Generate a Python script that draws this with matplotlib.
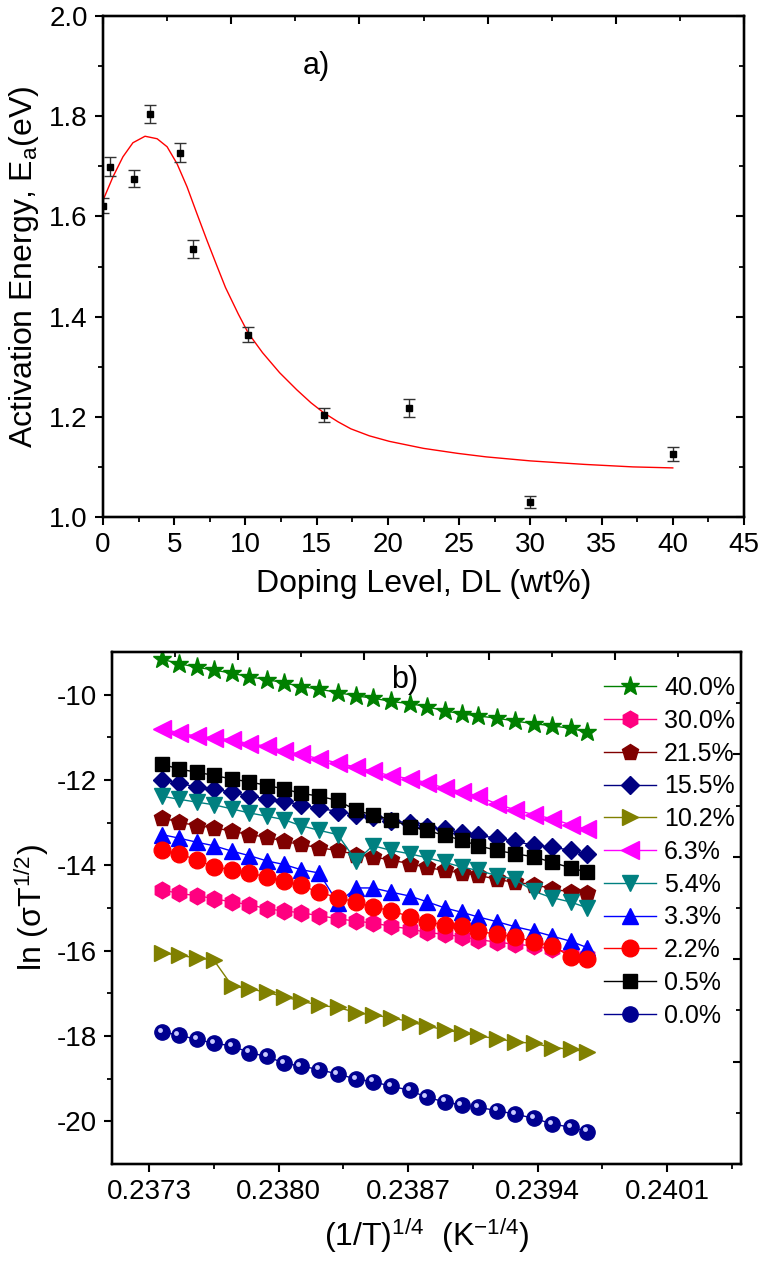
import matplotlib
matplotlib.use('Agg')
from matplotlib import pyplot as plt
from matplotlib.transforms import offset_copy


#panel a data: activation energy vs doping level

doping = [0.0, 0.5, 2.2, 3.3, 5.4, 6.3, 10.2, 15.5, 21.5, 30.0, 40.0]
ea = [1.621, 1.699, 1.675, 1.804, 1.727, 1.535, 1.364, 1.203, 1.217, 1.030, 1.126]
ea_err = [0.015, 0.019, 0.017, 0.018, 0.019, 0.018, 0.015, 0.014, 0.018, 0.012, 0.014]

fit_x = [0.0, 0.7, 1.4, 2.1, 2.95, 3.8, 4.5, 5.2, 5.9, 6.6, 7.3, 8.0, 8.6, 9.5, 10.2,
         11.2, 12.4, 13.6, 14.6, 15.5, 16.5, 17.4, 18.7, 20.1, 22.5, 24.9, 26.9, 30.0,
         33.8, 37.2, 40.0]
fit_y = [1.632, 1.679, 1.719, 1.747, 1.760, 1.755, 1.739, 1.705, 1.659, 1.605, 1.552,
         1.501, 1.458, 1.405, 1.367, 1.328, 1.288, 1.254, 1.228, 1.208, 1.190, 1.176,
         1.162, 1.151, 1.137, 1.127, 1.120, 1.112, 1.105, 1.100, 1.098]


#panel b data: ln(sigma T^1/2) vs (1/T)^1/4

inv_t = [0.23737, 0.23746, 0.23756, 0.23765, 0.23775, 0.23784, 0.23794, 0.23803,
         0.23812, 0.23822, 0.23832, 0.23842, 0.23851, 0.23861, 0.23871, 0.23880,
         0.23890, 0.23899, 0.23908, 0.23918, 0.23928, 0.23938, 0.23948, 0.23958, 0.23967]

s400 = [-9.17, -9.27, -9.36, -9.42, -9.50, -9.58, -9.65, -9.72, -9.81, -9.87, -9.95, -10.03,
        -10.08, -10.16, -10.21, -10.28, -10.38, -10.45, -10.50, -10.55, -10.62, -10.68,
        -10.73, -10.79, -10.88]
s300 = [-14.57, -14.66, -14.71, -14.78, -14.86, -14.92, -15.02, -15.07, -15.11, -15.18,
        -15.25, -15.31, -15.35, -15.43, -15.49, -15.57, -15.62, -15.67, -15.74, -15.80,
        -15.85, -15.89, -15.97, -16.03, -16.13]
s215 = [-12.88, -12.99, -13.07, -13.12, -13.20, -13.28, -13.34, -13.44, -13.51, -13.59,
        -13.65, -13.75, -13.80, -13.88, -13.96, -14.05, -14.12, -14.18, -14.23, -14.33,
        -14.40, -14.45, -14.55, -14.63, -14.66]
s155 = [-11.99, -12.07, -12.17, -12.21, -12.29, -12.37, -12.45, -12.49, -12.59, -12.66,
        -12.74, -12.81, -12.87, -12.95, -13.01, -13.11, -13.15, -13.24, -13.30, -13.36,
        -13.44, -13.53, -13.57, -13.65, -13.74]
s102 = [-16.05, -16.11, -16.17, -16.22, -16.83, -16.89, -16.98, -17.08, -17.18, -17.28,
        -17.33, -17.45, -17.51, -17.57, -17.67, -17.76, -17.86, -17.92, -18.00, -18.06,
        -18.14, -18.17, -18.27, -18.31, -18.37]
s63 = [-10.80, -10.89, -10.98, -11.01, -11.06, -11.15, -11.21, -11.32, -11.40, -11.50,
       -11.60, -11.70, -11.80, -11.90, -11.97, -12.06, -12.19, -12.27, -12.38, -12.56,
       -12.70, -12.81, -12.91, -13.05, -13.16]
s54 = [-12.38, -12.45, -12.52, -12.58, -12.68, -12.77, -12.85, -12.93, -13.07, -13.18,
       -13.28, -13.90, -13.54, -13.65, -13.73, -13.82, -13.93, -14.04, -14.12, -14.24,
       -14.33, -14.61, -14.76, -14.86, -15.00]
s33 = [-13.28, -13.36, -13.46, -13.54, -13.67, -13.77, -13.90, -13.98, -14.10, -14.18,
       -14.88, -14.53, -14.53, -14.63, -14.72, -14.85, -15.00, -15.10, -15.21, -15.32,
       -15.44, -15.54, -15.66, -15.78, -15.93]
s22 = [-13.65, -13.73, -13.87, -14.04, -14.10, -14.18, -14.27, -14.37, -14.47, -14.63,
       -14.76, -14.86, -14.97, -15.07, -15.20, -15.33, -15.39, -15.43, -15.54, -15.62,
       -15.67, -15.80, -15.89, -16.14, -16.20]
s05 = [-11.63, -11.74, -11.82, -11.89, -11.98, -12.04, -12.13, -12.21, -12.31, -12.38,
       -12.48, -12.71, -12.82, -12.93, -13.09, -13.18, -13.30, -13.41, -13.54, -13.65,
       -13.73, -13.80, -13.93, -14.06, -14.16]
s00 = [-17.90, -17.98, -18.08, -18.17, -18.23, -18.39, -18.48, -18.64, -18.70, -18.79,
       -18.89, -19.01, -19.07, -19.18, -19.27, -19.44, -19.54, -19.62, -19.67, -19.75,
       -19.83, -19.93, -20.06, -20.14, -20.24]

labels_b = ['40.0%', '30.0%', '21.5%', '15.5%', '10.2%', '6.3%', '5.4%', '3.3%', '2.2%', '0.5%', '0.0%']
colors_b = ['#008000', '#ff0080', '#800000', '#000080', '#808000', '#ff00ff', '#008080',
            '#0000ff', '#ff0000', '#000000', '#000090']
markers_b = ['*', 'h', 'p', 'D', '>', '<', 'v', '^', 'o', 's', 'o']
sizes_b = [14, 12, 12, 9, 12, 13, 12, 12, 12, 10, 11]


#global style

plt.rcParams['font.family'] = ['Liberation Sans', 'DejaVu Sans']
plt.rcParams['mathtext.fontset'] = 'custom'
plt.rcParams['mathtext.rm'] = 'Liberation Sans'
plt.rcParams['mathtext.it'] = 'Liberation Sans'
plt.rcParams['axes.unicode_minus'] = False
plt.rcParams['axes.linewidth'] = 1.6

W, H = 763, 1262
fig = plt.figure(figsize=(W / 100, H / 100), dpi=100)


def style_ticks(ax, direction):
    ax.tick_params(which='major', length=6, width=1.5, direction=direction, labelsize=20, pad=5)
    ax.tick_params(which='minor', length=3.5, width=1.3, direction=direction)


def mirror_ticks(ax):
    #top ticks split the frame in ten, inward, no labels
    top = ax.twiny()
    top.set_xlim(0, 10)
    top.set_xticks([0, 2, 4, 6, 8, 10])
    top.set_xticks([1, 3, 5, 7, 9], minor=True)
    top.tick_params(labeltop=False)
    style_ticks(top, 'in')
    return top


#top panel

ax1 = fig.add_axes([103 / W, 1 - 517 / H, (744 - 103) / W, (517 - 16) / H])
ax1.plot(fit_x, fit_y, color='red', lw=1)
ax1.errorbar(doping, ea, yerr=ea_err, fmt='s', color='black', ms=5, ecolor='#333333',
             elinewidth=1, capsize=4, capthick=1)
ax1.set_xlim(0, 45)
ax1.set_ylim(1.0, 2.0)
ax1.set_xticks(range(0, 46, 5))
ax1.set_xticks([2.5 + 5 * i for i in range(9)], minor=True)
ax1.set_yticks([1.0, 1.2, 1.4, 1.6, 1.8, 2.0])
ax1.set_yticklabels(['1.0', '1.2', '1.4', '1.6', '1.8', '2.0'])
ax1.set_yticks([1.1, 1.3, 1.5, 1.7, 1.9], minor=True)
style_ticks(ax1, 'out')
ax1.set_xlabel('Doping Level, DL (wt%)', fontsize=23, labelpad=8)
ax1.set_ylabel('Activation Energy, E$_a$(eV)', fontsize=23, labelpad=6)
ax1.text(15.0, 1.9, 'a)', fontsize=22, ha='center', va='center')

mirror_ticks(ax1)
ax1r = ax1.twinx()
ax1r.set_ylim(1.0, 2.0)
ax1r.set_yticks([1.0, 1.2, 1.4, 1.6, 1.8, 2.0])
ax1r.set_yticks([1.1, 1.3, 1.5, 1.7, 1.9], minor=True)
ax1r.tick_params(labelright=False)
style_ticks(ax1r, 'in')


#bottom panel

ax2 = fig.add_axes([112 / W, 1 - 1164 / H, (741 - 112) / W, (1164 - 652) / H])
series_b = [s400, s300, s215, s155, s102, s63, s54, s33, s22, s05, s00]
handles = []
for ys, lab, c, m, ms in zip(series_b, labels_b, colors_b, markers_b, sizes_b):
    h, = ax2.plot(inv_t, ys, color=c, lw=1, marker=m, ms=ms, mec=c, mfc=c, label=lab)
    handles.append(h)

#highlight spot on the 0.0% spheres
spot = offset_copy(ax2.transData, fig=fig, x=-1.6, y=1.6, units='points')
ax2.plot(inv_t, s00, ls='none', marker='o', ms=3.5, mfc='#c8c8ff', mec='none',
         transform=spot)

ax2.set_xlim(0.2371, 0.2405)
ax2.set_ylim(-21, -9)
xt = [0.2373, 0.2380, 0.2387, 0.2394, 0.2401]
ax2.set_xticks(xt)
ax2.set_xticklabels(['%.4f' % v for v in xt])
ax2.set_xticks([0.23765, 0.23835, 0.23905, 0.23975, 0.24045], minor=True)
ax2.set_yticks([-20, -18, -16, -14, -12, -10])
ax2.set_yticklabels(['-20', '-18', '-16', '-14', '-12', '-10'])
ax2.set_yticks([-19, -17, -15, -13, -11], minor=True)
style_ticks(ax2, 'out')
ax2.set_xlabel(r'(1/T)$^{1/4}$  (K$^{-1/4}$)', fontsize=23, labelpad=8)
ax2.set_ylabel(r'ln ($\sigma$T$^{1/2}$)', fontsize=23, labelpad=4)
ax2.text(0.23868, -9.65, 'b)', fontsize=22, ha='center', va='center')

leg = ax2.legend(handles=handles, loc='upper left', bbox_to_anchor=(0.782, 0.953),
                 frameon=False, fontsize=18, borderpad=0, borderaxespad=0,
                 handlelength=2.1, handletextpad=0.3, labelspacing=0.35)

mirror_ticks(ax2)
ax2r = ax2.twinx()
ax2r.set_ylim(0, 10)
ax2r.set_yticks([0, 2, 4, 6, 8, 10])
ax2r.set_yticks([1, 3, 5, 7, 9], minor=True)
ax2r.tick_params(labelright=False)
style_ticks(ax2r, 'in')


#save image

fig.savefig('out.png', dpi=100)
